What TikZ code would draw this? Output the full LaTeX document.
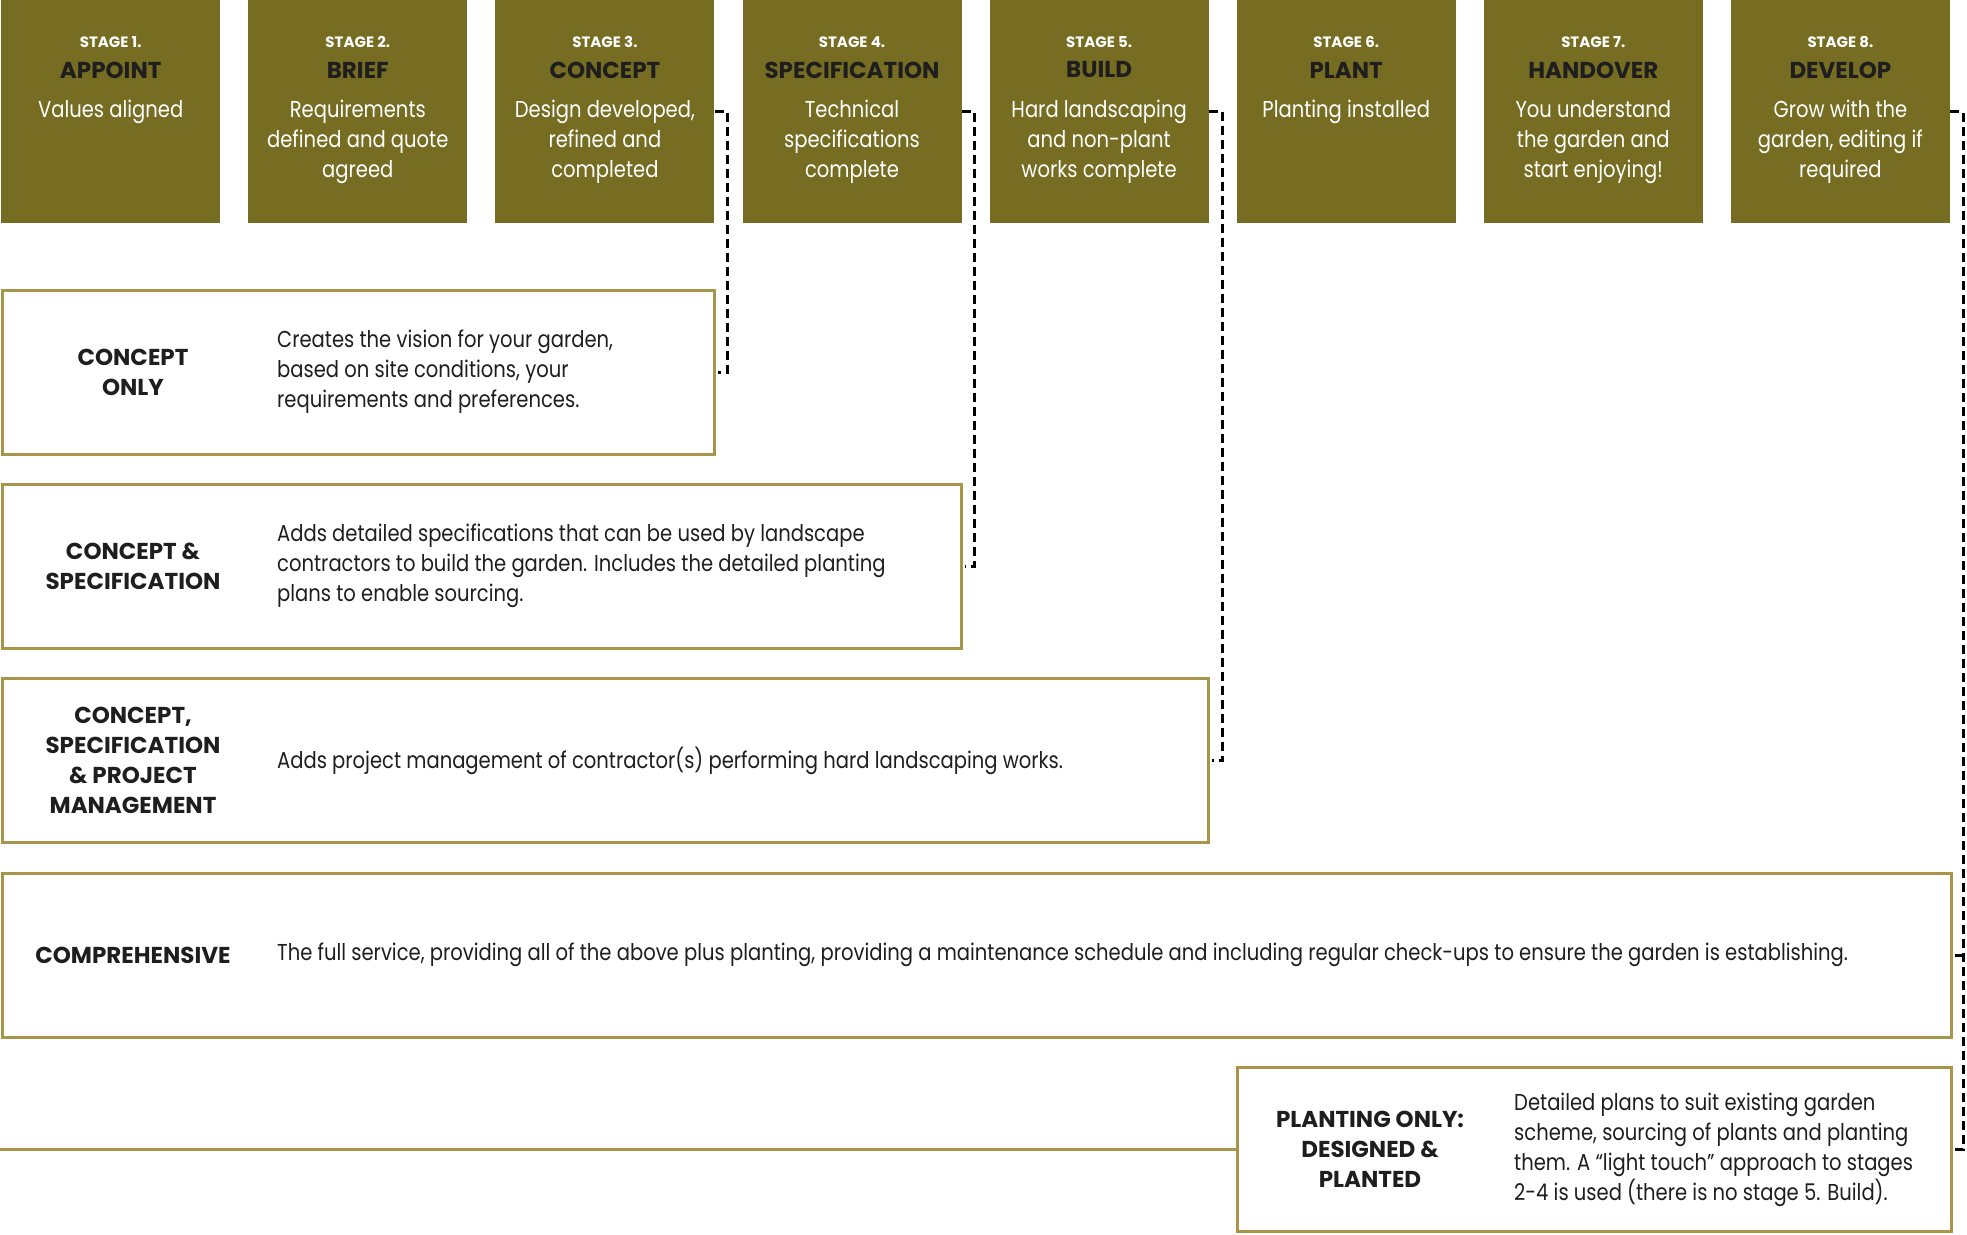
\documentclass[tikz,border=0pt]{standalone}
\usepackage{fontspec}
\setmainfont{Poppins}[FakeStretch=0.85]
\newfontfamily\headfont{Poppins}
\usetikzlibrary{positioning}
\definecolor{olive}{HTML}{766D22}
\definecolor{gold}{HTML}{A8954A}
\definecolor{ink}{HTML}{1E1E1E}
\tikzset{
  stagebox/.style={fill=olive, minimum width=219pt, minimum height=223pt,
    inner sep=0pt, anchor=north west},
  stagelab/.style={text=white, font=\fontsize{15}{17}\headfont\bfseries},
  stagename/.style={text=ink, font=\fontsize{23}{26}\headfont\bfseries},
  stagedesc/.style={text=white, align=center, anchor=north, inner sep=0pt,
    font=\fontsize{23}{30}\selectfont},
  svcbox/.style={draw=gold, line width=3pt, inner sep=0pt, outer sep=0pt,
    anchor=north west, minimum height=164pt},
  svctitle/.style={text=ink, align=center, inner sep=0pt,
    font=\fontsize{23}{30}\headfont\bfseries},
  svcdesc/.style={text=ink, align=left, anchor=west, inner sep=0pt,
    font=\fontsize{23}{30}\selectfont},
  link/.style={draw=black, line width=3pt, dash pattern=on 9pt off 5pt,
    shorten >=4pt},
  goldline/.style={draw=gold, line width=3pt}
}
\begin{document}
\begin{tikzpicture}[x=1pt,y=-1pt]
  \useasboundingbox (0,0) rectangle (1967,1234);
  % stages
  \foreach \i/\nm/\desc in {1/APPOINT/{Values aligned},
      2/BRIEF/{Requirements\\defined and quote\\agreed},
      3/CONCEPT/{Design developed,\\refined and\\completed},
      4/SPECIFICATION/{Technical\\specifications\\complete},
      5/BUILD/{Hard landscaping\\and non-plant\\works complete},
      6/PLANT/{Planting installed},
      7/HANDOVER/{You understand\\the garden and\\start enjoying!},
      8/DEVELOP/{Grow with the\\garden, editing if\\required}}{%
    \node[stagebox] (st\i) at ({1+(\i-1)*247.1},0) {};
    \node[stagelab] (lab\i) at ([yshift=-42pt]st\i.north) {STAGE \i.};
    \node[stagename] (nm\i) at ([yshift=-70pt]st\i.north) {\nm};
    \node[stagedesc] (ds\i) at ([yshift=-100pt]st\i.north) {\desc};}
  % service levels
  \node[svcbox, minimum width=712pt] (svc1) at (2,290) {};
  \node[svctitle] (ttl1) at ([xshift=131pt]svc1.west) {CONCEPT\\ONLY};
  \node[svcdesc] (dsc1) at ([xshift=275pt]svc1.west)
    {Creates the vision for your garden,\\based on site conditions, your\\requirements and preferences.};
  \node[svcbox, minimum width=959pt] (svc2) at (2,484.2) {};
  \node[svctitle] (ttl2) at ([xshift=131pt]svc2.west) {CONCEPT \&\\SPECIFICATION};
  \node[svcdesc] (dsc2) at ([xshift=275pt]svc2.west)
    {Adds detailed specifications that can be used by landscape\\contractors to build the garden. Includes the detailed planting\\plans to enable sourcing.};
  \node[svcbox, minimum width=1206pt] (svc3) at (2,678.7) {};
  \node[svctitle] (ttl3) at ([xshift=131pt]svc3.west)
    {CONCEPT,\\SPECIFICATION\\\& PROJECT\\MANAGEMENT};
  \node[svcdesc] (dsc3) at ([xshift=275pt]svc3.west)
    {Adds project management of contractor(s) performing hard landscaping works.};
  \node[svcbox, minimum width=1949pt] (svc4) at (2,873.1) {};
  \node[svctitle] (ttl4) at ([xshift=131pt]svc4.west) {COMPREHENSIVE};
  \node[svcdesc] (dsc4) at ([xshift=275pt]svc4.west)
    {The full service, providing all of the above plus planting, providing a maintenance schedule and including regular check-ups to ensure the garden is establishing.};
  \node[svcbox, minimum width=714pt] (svc5) at (1237,1067.6) {};
  \node[svctitle] (ttl5) at ([xshift=133pt]svc5.west)
    {PLANTING ONLY:\\DESIGNED \&\\PLANTED};
  \node[svcdesc] (dsc5) at ([xshift=277pt]svc5.west)
    {Detailed plans to suit existing garden\\scheme, sourcing of plants and planting\\them. A “light touch” approach to stages\\2-4 is used (there is no stage 5. Build).};
  % connectors
  \coordinate (rail) at (0,1149.6);
  \draw[goldline] (rail) -- (svc5.west);
  \draw[link] (st3.east) -- ++(13,0) |- (svc1.east);
  \draw[link] (st4.east) -- ++(13,0) |- (svc2.east);
  \draw[link] (st5.east) -- ++(14,0) |- (svc3.east);
  \path (st8.east) ++(13,0) coordinate (v8);
  \draw[link] (st8.east) -- (v8) |- (svc5.east);
  \draw[link] (v8 |- svc4.east) -- (svc4.east);
\end{tikzpicture}
\end{document}
